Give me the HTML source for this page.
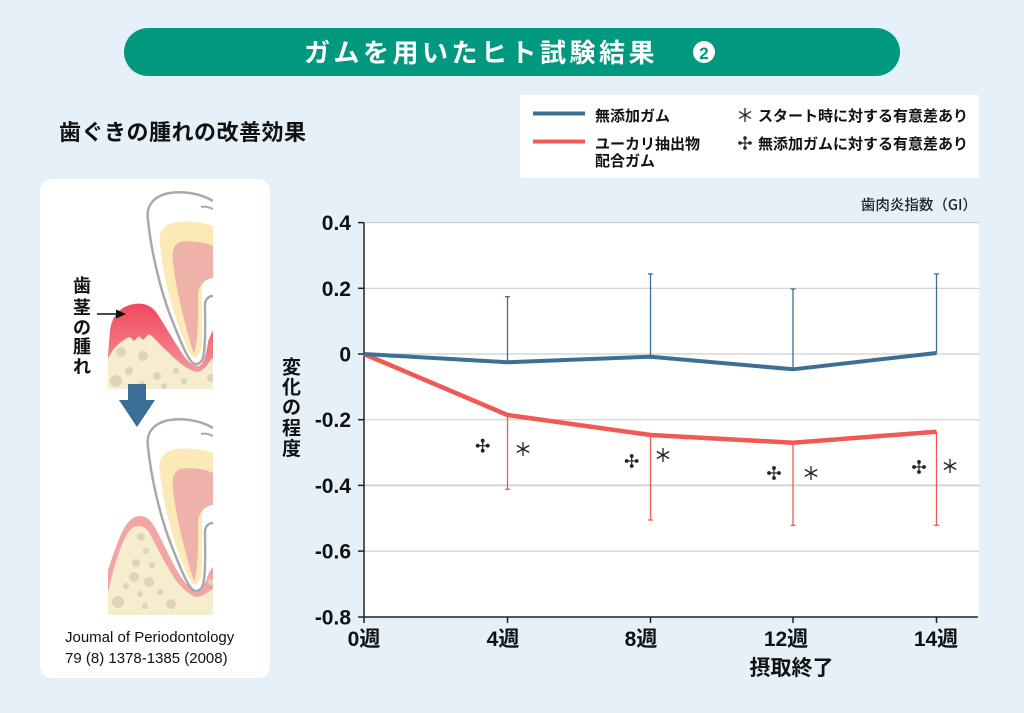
<!DOCTYPE html>
<html><head><meta charset="utf-8"><style>
html,body{margin:0;padding:0;background:#e5f0f8;}
svg{display:block;}
text{font-family:"Liberation Sans","Noto Sans CJK JP",sans-serif;}
.j{font-family:"Noto Sans CJK JP","Liberation Sans",sans-serif;}
</style></head><body>
<svg width="1024" height="713" viewBox="0 0 1024 713" xmlns="http://www.w3.org/2000/svg">
<defs>
<linearGradient id="gumg" x1="0" y1="0" x2="0" y2="1">
<stop offset="0" stop-color="#f1475f"/><stop offset="0.55" stop-color="#f27a86"/><stop offset="1" stop-color="#f6b3b3"/>
</linearGradient>
<clipPath id="c1"><rect x="100" y="185" width="113" height="204"/></clipPath>
<clipPath id="c2"><rect x="100" y="412" width="113" height="203"/></clipPath>
<g id="tooth">
<path d="M213,201 C200,193 180,190 165,194 C152,198 146,207 148,220 C151,250 160,290 172,320 C180,340 186,355 191,361 C195,366 200,365 203,358 C206,345 205,320 205,305 C205,299 209,296 213,296 Z" fill="#fff"/>
<path d="M213,226 C200,222 185,220 172,223 C162,226 158,234 160,246 C163,275 172,310 182,335 C187,348 191,356 195,358 C199,356 202,350 202,340 L202,288 C203,280 207,275 213,274 Z" fill="#fbe9b6"/>
<path d="M213,246 C205,242 190,240 180,242 C173,245 172,252 173,262 C176,290 184,320 191,345 L194,354 C197,345 198,330 198,315 L198,294 C199,285 205,279 213,278 Z" fill="#efb2aa"/>
<path d="M213,201 C200,193 180,190 165,194 C152,198 146,207 148,220 C151,250 160,290 172,320 C180,340 186,355 191,361 C195,366 200,365 203,358 C206,345 205,320 205,305 C205,299 209,296 213,296" fill="none" stroke="#a9a9a9" stroke-width="2.5"/>
<path d="M201,207 C205,206 209,207 213,209" fill="none" stroke="#a9a9a9" stroke-width="2"/>
</g>
</defs>

<!-- Title bar -->
<rect x="124" y="28" width="776" height="48" rx="24" fill="#00987e"/>
<text x="304" y="62" font-size="26" font-weight="bold" fill="#fff" letter-spacing="3.5" class="j">ガムを用いたヒト試験結果</text>
<circle cx="704" cy="52" r="11" fill="#fff"/>
<text x="704" y="59" font-size="17" font-weight="bold" fill="#00987e" text-anchor="middle">2</text>

<!-- Subtitle -->
<text x="59" y="140" font-size="22" font-weight="bold" fill="#111" letter-spacing="0.5" class="j">歯ぐきの腫れの改善効果</text>

<!-- Left panel -->
<rect x="40" y="179" width="230" height="499" rx="12" fill="#fff"/>

<g clip-path="url(#c1)">
<path d="M108,355 L110,330 C112,318 118,308 130,305 C140,302 150,304 156,312 C163,322 170,335 180,350 C186,360 192,366 198,366 C204,366 207,350 208,342 C210,336 212,332 213,331 L213,389 L108,389 Z" fill="url(#gumg)"/>
<path d="M108,358 L113,350 C120,342 126,338 130,337 L134,341 L139,336 L143,340 L149,334 C155,338 160,345 168,352 C176,360 184,368 196,372 C205,372 208,362 213,358 L213,389 L108,389 Z" fill="#f6ecce"/>
<g fill="#ddd4be">
<circle cx="121" cy="352" r="5"/><circle cx="143" cy="356" r="5"/><circle cx="129" cy="371" r="4"/><circle cx="157" cy="376" r="4"/><circle cx="116" cy="381" r="6"/><circle cx="176" cy="371" r="3"/><circle cx="184" cy="381" r="3"/><circle cx="164" cy="386" r="3"/><circle cx="211" cy="378" r="4"/><circle cx="142" cy="384" r="3"/>
</g>
<use href="#tooth"/>
</g>

<!-- arrow label -->
<text class="j" font-size="18" font-weight="bold" fill="#111" text-anchor="middle">
<tspan x="82" y="292">歯</tspan><tspan x="82" y="314">茎</tspan><tspan x="82" y="334">の</tspan><tspan x="82" y="353">腫</tspan><tspan x="82" y="373">れ</tspan>
</text>
<line x1="97" y1="314" x2="118" y2="314" stroke="#111" stroke-width="1.5"/>
<polygon points="126,314 116,309.5 116,318.5" fill="#111"/>

<!-- down arrow -->
<rect x="128" y="384" width="18" height="17" fill="#3b6e96"/>
<polygon points="119,400 155,400 137,427" fill="#3b6e96"/>

<g clip-path="url(#c2)">
<path d="M108,582 L108,570 C115,550 122,525 133,518 C140,514 147,516 152,523 C160,535 168,555 178,572 C184,582 190,590 197,590 C204,590 206,580 208,575 C210,570 212,568 213,567 L213,615 L108,615 Z" fill="#f3a4a4"/>
<path d="M108,592 C113,572 120,542 130,530 C136,524 144,525 149,532 C157,547 166,566 175,579 C183,589 190,596 197,597 C205,596 208,591 213,589 L213,615 L108,615 Z" fill="#f6ecce"/>
<g fill="#ddd4be">
<circle cx="141" cy="537" r="4"/><circle cx="146" cy="551" r="3"/><circle cx="136" cy="563" r="4"/><circle cx="152" cy="565" r="3"/><circle cx="134" cy="577" r="5"/><circle cx="149" cy="582" r="5"/><circle cx="140" cy="594" r="3"/><circle cx="160" cy="592" r="3"/><circle cx="118" cy="602" r="6"/><circle cx="145" cy="606" r="3"/><circle cx="171" cy="604" r="5"/><circle cx="211" cy="582" r="3"/><circle cx="126" cy="586" r="3"/>
</g>
<use href="#tooth" transform="translate(0,227)"/>
</g>

<text x="65" y="642" font-size="15" fill="#111">Joumal of Periodontology</text>
<text x="65" y="663" font-size="15" fill="#111">79 (8)  1378-1385 (2008)</text>

<!-- Legend -->
<rect x="520" y="95" width="459" height="83" fill="#fff"/>
<line x1="533" y1="113.5" x2="585" y2="113.5" stroke="#3c6e96" stroke-width="4"/>
<line x1="533" y1="141.5" x2="585" y2="141.5" stroke="#ee5d57" stroke-width="4"/>
<g class="j" font-size="15" font-weight="bold" fill="#111">
<text x="595" y="121" class="j">無添加ガム</text>
<text x="595" y="149" class="j">ユーカリ抽出物</text>
<text x="595" y="166" class="j">配合ガム</text>
<text x="758" y="121" class="j">スタート時に対する有意差あり</text>
<text x="758" y="149" class="j">無添加ガムに対する有意差あり</text>
</g>
<g stroke="#222" stroke-width="1.3" fill="none">
<g transform="translate(745,115)"><line x1="0" y1="-7" x2="0" y2="7"/><line x1="-6" y1="-3.5" x2="6" y2="3.5"/><line x1="-6" y1="3.5" x2="6" y2="-3.5"/></g>
</g>
<g transform="translate(745,143)" fill="#222" stroke="#222">
<line x1="-6" y1="0" x2="6" y2="0" stroke-width="1.2"/><line x1="0" y1="-6" x2="0" y2="6" stroke-width="1.2"/>
<circle cx="-5" cy="0" r="1.8" stroke="none"/><circle cx="5" cy="0" r="1.8" stroke="none"/><circle cx="0" cy="-5" r="1.8" stroke="none"/><circle cx="0" cy="5" r="1.8" stroke="none"/>
</g>

<!-- Unit label -->
<text x="977" y="210" font-size="14.5" font-weight="500" fill="#222" text-anchor="end" class="j">歯肉炎指数（GI）</text>

<!-- Plot area -->
<rect x="364" y="222.6" width="615" height="394.4" fill="#fff"/>
<g stroke="#cfcfcf" stroke-width="1.2">
<line x1="364" y1="222.6" x2="979" y2="222.6"/>
<line x1="364" y1="288.3" x2="979" y2="288.3"/>
<line x1="364" y1="354" x2="979" y2="354"/>
<line x1="364" y1="419.7" x2="979" y2="419.7"/>
<line x1="364" y1="485.4" x2="979" y2="485.4" stroke-width="1.8"/>
<line x1="364" y1="551.1" x2="979" y2="551.1"/>
</g>
<!-- axes -->
<g stroke="#222" stroke-width="1.5">
<line x1="364" y1="222.6" x2="364" y2="617.5"/>
<line x1="358" y1="617" x2="978" y2="617"/>
<line x1="358" y1="222.6" x2="364" y2="222.6"/>
<line x1="358" y1="288.3" x2="364" y2="288.3"/>
<line x1="358" y1="354" x2="364" y2="354"/>
<line x1="358" y1="419.7" x2="364" y2="419.7"/>
<line x1="358" y1="485.4" x2="364" y2="485.4"/>
<line x1="358" y1="551.1" x2="364" y2="551.1"/>
<line x1="364" y1="617" x2="364" y2="623"/>
<line x1="507.5" y1="617" x2="507.5" y2="623"/>
<line x1="650.5" y1="617" x2="650.5" y2="623"/>
<line x1="793" y1="617" x2="793" y2="623"/>
<line x1="936.5" y1="617" x2="936.5" y2="623"/>
</g>
<!-- y tick labels -->
<g font-size="21" font-weight="bold" fill="#111" text-anchor="end">
<text x="351" y="230">0.4</text>
<text x="351" y="296">0.2</text>
<text x="351" y="361.5">0</text>
<text x="351" y="427">-0.2</text>
<text x="351" y="493">-0.4</text>
<text x="351" y="558.5">-0.6</text>
<text x="351" y="624.5">-0.8</text>
</g>
<!-- x tick labels -->
<g font-size="21" font-weight="bold" fill="#111" text-anchor="middle">
<text x="364" y="646">0<tspan class="j">週</tspan></text>
<text x="503" y="646">4<tspan class="j">週</tspan></text>
<text x="641" y="646">8<tspan class="j">週</tspan></text>
<text x="786" y="646">12<tspan class="j">週</tspan></text>
<text x="936" y="646">14<tspan class="j">週</tspan></text>
</g>
<text x="791.5" y="675" font-size="21" font-weight="bold" fill="#111" text-anchor="middle" class="j">摂取終了</text>
<!-- y axis label -->
<text class="j" font-size="19" font-weight="bold" fill="#111" text-anchor="middle">
<tspan x="291.5" y="373.5">変</tspan><tspan x="291.5" y="393.5">化</tspan><tspan x="291.5" y="413.5">の</tspan><tspan x="291.5" y="434.5">程</tspan><tspan x="291.5" y="455">度</tspan>
</text>

<!-- error bars -->
<g stroke="#3d6f97" stroke-width="1.3">
<line x1="507.5" y1="362.3" x2="507.5" y2="296.7"/><line x1="505" y1="296.7" x2="510" y2="296.7"/>
<line x1="650.5" y1="356.7" x2="650.5" y2="274"/><line x1="648" y1="274" x2="653" y2="274"/>
<line x1="793" y1="369.3" x2="793" y2="289"/><line x1="790.5" y1="289" x2="795.5" y2="289"/>
<line x1="936.5" y1="353" x2="936.5" y2="274"/><line x1="934" y1="274" x2="939" y2="274"/>
</g>
<g stroke="#ef5a55" stroke-width="1.3">
<line x1="507.5" y1="415" x2="507.5" y2="489.3"/><line x1="505" y1="489.3" x2="510" y2="489.3"/>
<line x1="650.5" y1="435" x2="650.5" y2="520"/><line x1="648" y1="520" x2="653" y2="520"/>
<line x1="793" y1="442.7" x2="793" y2="525.3"/><line x1="790.5" y1="525.3" x2="795.5" y2="525.3"/>
<line x1="936.5" y1="431.7" x2="936.5" y2="525.3"/><line x1="934" y1="525.3" x2="939" y2="525.3"/>
</g>
<!-- series -->
<polyline points="364,354 507.5,415 650.5,435 793,442.7 936.5,431.7" fill="none" stroke="#ef5a55" stroke-width="4.5" stroke-linejoin="round"/>
<polyline points="364,354 507.5,362.3 650.5,356.7 793,369.3 936.5,353" fill="none" stroke="#3c6e96" stroke-width="4" stroke-linejoin="round"/>

<!-- significance markers -->
<g fill="#222" stroke="#222">
<g transform="translate(482.7,445.7)"><line x1="-6" y1="0" x2="6" y2="0" stroke-width="1.2"/><line x1="0" y1="-6" x2="0" y2="6" stroke-width="1.2"/><circle cx="-5" cy="0" r="1.9" stroke="none"/><circle cx="5" cy="0" r="1.9" stroke="none"/><circle cx="0" cy="-5" r="1.9" stroke="none"/><circle cx="0" cy="5" r="1.9" stroke="none"/></g>
<g transform="translate(631.7,461)"><line x1="-6" y1="0" x2="6" y2="0" stroke-width="1.2"/><line x1="0" y1="-6" x2="0" y2="6" stroke-width="1.2"/><circle cx="-5" cy="0" r="1.9" stroke="none"/><circle cx="5" cy="0" r="1.9" stroke="none"/><circle cx="0" cy="-5" r="1.9" stroke="none"/><circle cx="0" cy="5" r="1.9" stroke="none"/></g>
<g transform="translate(774,473)"><line x1="-6" y1="0" x2="6" y2="0" stroke-width="1.2"/><line x1="0" y1="-6" x2="0" y2="6" stroke-width="1.2"/><circle cx="-5" cy="0" r="1.9" stroke="none"/><circle cx="5" cy="0" r="1.9" stroke="none"/><circle cx="0" cy="-5" r="1.9" stroke="none"/><circle cx="0" cy="5" r="1.9" stroke="none"/></g>
<g transform="translate(919,467)"><line x1="-6" y1="0" x2="6" y2="0" stroke-width="1.2"/><line x1="0" y1="-6" x2="0" y2="6" stroke-width="1.2"/><circle cx="-5" cy="0" r="1.9" stroke="none"/><circle cx="5" cy="0" r="1.9" stroke="none"/><circle cx="0" cy="-5" r="1.9" stroke="none"/><circle cx="0" cy="5" r="1.9" stroke="none"/></g>
</g>
<g stroke="#222" stroke-width="1.3" fill="none">
<g transform="translate(523,449)"><line x1="0" y1="-7" x2="0" y2="7"/><line x1="-6.2" y1="-3.5" x2="6.2" y2="3.5"/><line x1="-6.2" y1="3.5" x2="6.2" y2="-3.5"/></g>
<g transform="translate(663,455)"><line x1="0" y1="-7" x2="0" y2="7"/><line x1="-6.2" y1="-3.5" x2="6.2" y2="3.5"/><line x1="-6.2" y1="3.5" x2="6.2" y2="-3.5"/></g>
<g transform="translate(811,473)"><line x1="0" y1="-7" x2="0" y2="7"/><line x1="-6.2" y1="-3.5" x2="6.2" y2="3.5"/><line x1="-6.2" y1="3.5" x2="6.2" y2="-3.5"/></g>
<g transform="translate(950,466)"><line x1="0" y1="-7" x2="0" y2="7"/><line x1="-6.2" y1="-3.5" x2="6.2" y2="3.5"/><line x1="-6.2" y1="3.5" x2="6.2" y2="-3.5"/></g>
</g>
</svg>
</body></html>
